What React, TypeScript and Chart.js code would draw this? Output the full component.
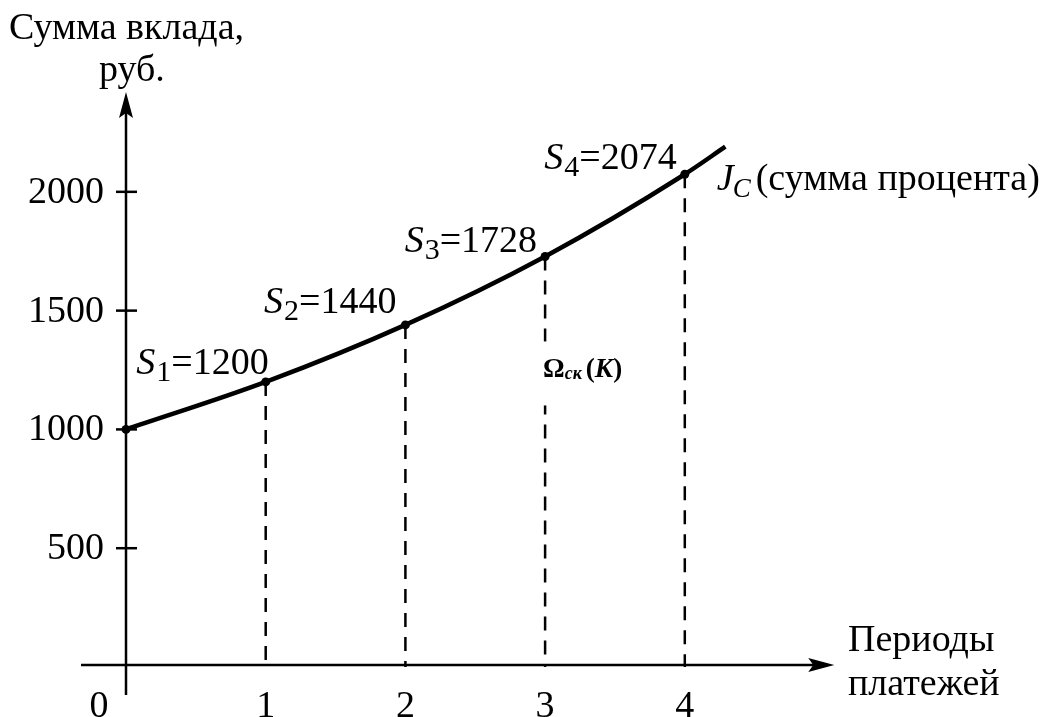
import React, { useEffect, useRef } from "react";
import { Chart, registerables } from "chart.js";

Chart.register(...registerables);

// ---- data ----
const periods = [0, 1, 2, 3, 4];
const deposits = [1000, 1200, 1440, 1728, 2074];
const curveTail = { x: 4.29, y: 2190 }; // curve continues past period 4
const yTicks = [500, 1000, 1500, 2000];
const xTicks = [0, 1, 2, 3, 4];
const sLabels = ["S", "S", "S", "S"];
const sIndices = ["1", "2", "3", "4"];
const sValues = ["=1200", "=1440", "=1728", "=2074"];
const yTitle = ["Сумма вклада,", "руб."];
const xTitle = ["Периоды", "платежей"];
const curveTitle = "(сумма процента)";

// label offsets (pixels, relative to the point) for S-labels
const sOffsets = [
  { dx: 3, dy: -8 },
  { dx: -9, dy: -12 },
  { dx: -8, dy: -4 },
  { dx: -8, dy: -5 },
];

const SERIF = '"Liberation Serif", "Times New Roman", serif';
const FS = 38;

const axesPlugin = {
  id: "axesPlugin",
  afterDatasetsDraw(chart: any) {
    const ctx: CanvasRenderingContext2D = chart.ctx;
    const xs = chart.scales.x;
    const ys = chart.scales.y;
    const px = (v: number) => xs.getPixelForValue(v);
    const py = (v: number) => ys.getPixelForValue(v);
    const x0 = px(0);
    const y0 = py(0);

    ctx.save();
    ctx.strokeStyle = "#000";
    ctx.fillStyle = "#000";
    ctx.lineWidth = 2.5;
    ctx.lineCap = "butt";

    // y axis
    const yTop = py(2420);
    ctx.beginPath();
    ctx.moveTo(x0, y0 + 28);
    ctx.lineTo(x0, yTop + 20);
    ctx.stroke();
    ctx.beginPath();
    ctx.moveTo(x0, yTop);
    ctx.lineTo(x0 - 7, yTop + 26);
    ctx.lineTo(x0, yTop + 21);
    ctx.lineTo(x0 + 7, yTop + 26);
    ctx.closePath();
    ctx.fill();

    // x axis
    const xRight = px(5.07);
    ctx.beginPath();
    ctx.moveTo(x0 - 45, y0 - 2);
    ctx.lineTo(xRight - 20, y0 - 2);
    ctx.stroke();
    ctx.beginPath();
    ctx.moveTo(xRight, y0 - 2);
    ctx.lineTo(xRight - 26, y0 - 9);
    ctx.lineTo(xRight - 21, y0 - 2);
    ctx.lineTo(xRight - 26, y0 + 5);
    ctx.closePath();
    ctx.fill();

    // y ticks + labels
    ctx.font = `${FS}px ${SERIF}`;
    ctx.textAlign = "right";
    ctx.textBaseline = "middle";
    yTicks.forEach((t) => {
      const y = py(t);
      ctx.beginPath();
      ctx.moveTo(x0 - 10, y);
      ctx.lineTo(x0 + 11, y);
      ctx.stroke();
      ctx.fillText(String(t), x0 - 22, y + 1);
    });

    // x tick labels
    ctx.textAlign = "center";
    ctx.textBaseline = "alphabetic";
    xTicks.forEach((t) => {
      const x = t === 0 ? x0 - 27 : px(t);
      ctx.fillText(String(t), x, y0 + 50);
    });

    // axis titles
    ctx.textAlign = "left";
    ctx.fillText(yTitle[0], 9, 39);
    ctx.fillText(yTitle[1], 99, 81);
    ctx.fillText(xTitle[0], 848, 651);
    ctx.fillText(xTitle[1], 848, 695);

    // S labels
    sValues.forEach((val, i) => {
      const idx = i + 1;
      const x = px(periods[idx]) + sOffsets[i].dx;
      const y = py(deposits[idx]) + sOffsets[i].dy;
      ctx.font = `${FS}px ${SERIF}`;
      const wv = ctx.measureText(val).width;
      ctx.font = `30px ${SERIF}`;
      const wi = ctx.measureText(sIndices[i]).width;
      ctx.font = `italic ${FS}px ${SERIF}`;
      const ws = ctx.measureText(sLabels[i]).width;
      let left = x - (wv + wi + ws + 1);
      ctx.textAlign = "left";
      ctx.fillText(sLabels[i], left, y);
      left += ws + 1;
      ctx.font = `30px ${SERIF}`;
      ctx.fillText(sIndices[i], left, y + 7);
      left += wi;
      ctx.font = `${FS}px ${SERIF}`;
      ctx.fillText(val, left, y);
    });

    // J_c label
    {
      const x = px(periods[4]) + 32;
      const y = py(deposits[4]) + 16;
      ctx.font = `italic ${FS}px ${SERIF}`;
      ctx.fillText("J", x, y);
      let l = x + ctx.measureText("J").width - 1;
      ctx.font = `italic 27px ${SERIF}`;
      ctx.fillText("C", l, y + 7);
      l += ctx.measureText("C").width + 5;
      ctx.font = `${FS}px ${SERIF}`;
      ctx.fillText(curveTitle, l, y);
    }

    // Ω_ск (К) label over the dashed line at period 3
    {
      const x = px(3);
      const yb = py(deposits[3]) + 121;
      ctx.fillStyle = "#fff";
      ctx.fillRect(x - 4, yb - 36, 95, 64);
      ctx.fillStyle = "#000";
      let l = x - 2;
      ctx.font = `bold 27px ${SERIF}`;
      ctx.fillText("Ω", l, yb);
      l += ctx.measureText("Ω").width;
      ctx.font = `italic bold 18px ${SERIF}`;
      ctx.fillText("ск", l, yb + 2);
      l += ctx.measureText("ск").width + 4;
      ctx.font = `bold 27px ${SERIF}`;
      ctx.fillText("(", l, yb);
      l += ctx.measureText("(").width;
      ctx.font = `italic bold 27px ${SERIF}`;
      ctx.fillText("К", l, yb);
      l += ctx.measureText("К").width;
      ctx.font = `bold 27px ${SERIF}`;
      ctx.fillText(")", l, yb);
    }

    ctx.restore();
  },
};

export default function App() {
  const ref = useRef<HTMLCanvasElement | null>(null);

  useEffect(() => {
    document.body.style.margin = "0";
    const canvas = ref.current;
    if (!canvas) return;

    const curveData = periods.map((p, i) => ({ x: p, y: deposits[i] }));
    curveData.push({ x: curveTail.x, y: curveTail.y });

    const dashed = periods.slice(1).map((p, i) => ({
      data: [
        { x: p, y: deposits[i + 1] },
        { x: p, y: 0 },
      ],
      showLine: true,
      borderColor: "#000",
      borderWidth: 2.5,
      borderDash: [14, 10],
      pointRadius: 0,
      tension: 0,
      clip: false as any,
    }));

    const chart = new Chart(canvas, {
      type: "scatter",
      data: {
        datasets: [
          ...dashed,
          {
            data: curveData,
            showLine: true,
            borderColor: "#000",
            backgroundColor: "#000",
            borderWidth: 4.5,
            cubicInterpolationMode: "monotone",
            pointRadius: curveData.map((_, i) => (i < periods.length ? 4.5 : 0)),
            pointBorderWidth: 0,
            clip: false as any,
          } as any,
        ],
      },
      options: {
        responsive: false,
        animation: false,
        layout: {
          padding: { left: 126, right: 293.35, top: 96.8, bottom: 50 },
        },
        plugins: {
          legend: { display: false },
          tooltip: { enabled: false },
        },
        scales: {
          x: { type: "linear", min: 0, max: 4.5, display: false },
          y: { type: "linear", min: 0, max: 2400, display: false },
        },
      },
      plugins: [axesPlugin],
    });

    return () => chart.destroy();
  }, []);

  return (
    <div style={{ width: 1048, height: 717, background: "#fff" }}>
      <canvas ref={ref} width={1048} height={717} />
    </div>
  );
}
